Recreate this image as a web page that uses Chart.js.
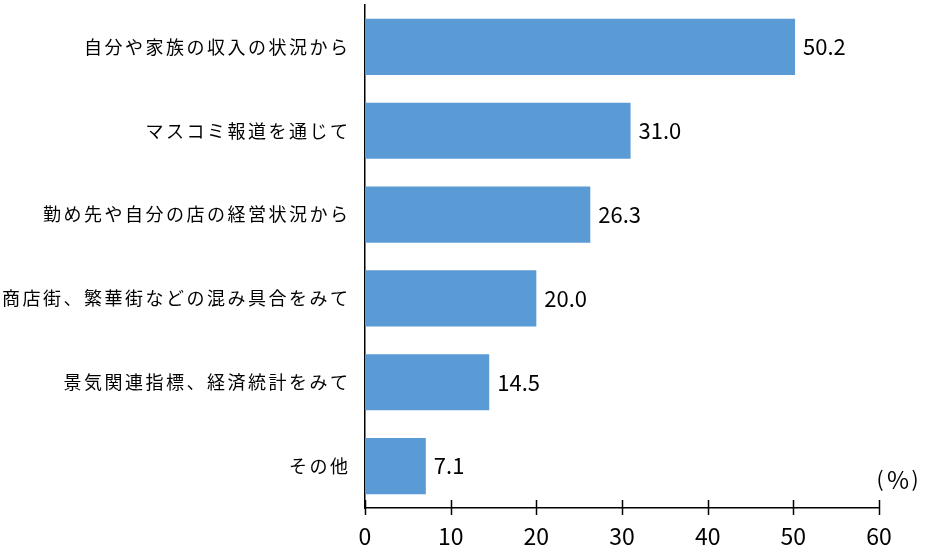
<!DOCTYPE html>
<html>
<head>
<meta charset="utf-8">
<script src="https://cdn.jsdelivr.net/npm/chart.js@4"></script>
<style>
  html, body { margin: 0; padding: 0; background: #fff; }
  #wrap { width: 932px; height: 552px; }
</style>
</head>
<body>
<div id="wrap"><canvas id="c" width="932" height="552"></canvas></div>
<script>
const categories = [
  '自分や家族の収入の状況から',
  'マスコミ報道を通じて',
  '勤め先や自分の店の経営状況から',
  '商店街、繁華街などの混み具合をみて',
  '景気関連指標、経済統計をみて',
  'その他'
];
const values = [50.2, 31.0, 26.3, 20.0, 14.5, 7.1];
const xTicks = [0, 10, 20, 30, 40, 50, 60];
const unitParts = ['(', '%', ')'];

const FONT = "'Noto Sans CJK JP', 'Noto Sans', sans-serif";
const BAR = '#5B9BD5';

/* category labels, value labels, cross tick marks, unit */
const extras = {
  id: 'extras',
  afterDatasetsDraw(chart) {
    const ctx = chart.ctx;
    const meta = chart.getDatasetMeta(0);
    ctx.save();
    ctx.fillStyle = '#000';
    ctx.textBaseline = 'middle';

    // category labels, spaced out a bit
    ctx.font = '18px ' + FONT;
    ctx.textAlign = 'right';
    ctx.letterSpacing = '2.5px';
    meta.data.forEach((bar, i) => {
      ctx.fillText(categories[i], chart.chartArea.left - 14.5, bar.y);
    });
    ctx.letterSpacing = '0px';

    ctx.font = '22px ' + FONT;
    ctx.textAlign = 'left';
    meta.data.forEach((bar, i) => {
      ctx.fillText(values[i].toFixed(1), bar.x + 8, bar.y);
    });

    const xs = chart.scales.x;
    const yb = chart.chartArea.bottom;
    ctx.strokeStyle = '#000';
    ctx.lineWidth = 1.5;
    xTicks.forEach(v => {
      const px = Math.round(xs.getPixelForValue(v)) + 0.5;
      ctx.beginPath();
      ctx.moveTo(px, yb - 8);
      ctx.lineTo(px, yb + 7);
      ctx.stroke();
    });

    // unit, parens set wide like full-width glyphs
    ctx.font = '21px ' + FONT;
    ctx.textAlign = 'center';
    ctx.fillText(unitParts[0], 880, 479);
    ctx.fillText(unitParts[2], 915, 479);
    ctx.font = '24px ' + FONT;
    ctx.fillText(unitParts[1], 898, 480);
    ctx.restore();
  }
};

new Chart(document.getElementById('c'), {
  type: 'bar',
  data: {
    labels: categories,
    datasets: [{
      data: values,
      backgroundColor: BAR,
      borderWidth: 0,
      categoryPercentage: 1,
      barPercentage: 0.67,
    }],
  },
  options: {
    indexAxis: 'y',
    responsive: false,
    animation: false,
    layout: { padding: { top: 5, right: 53, left: 0, bottom: 0 } },
    plugins: { legend: { display: false }, tooltip: { enabled: false } },
    scales: {
      x: {
        min: 0, max: 60,
        afterBuildTicks: s => { s.ticks = xTicks.map(v => ({ value: v })); },
        afterFit: s => { s.height = 44; s.paddingLeft = 0; s.paddingRight = 0; },
        grid: { display: false, drawTicks: false },
        border: { display: true, color: '#000', width: 1.5 },
        ticks: { color: '#000', font: { family: FONT, size: 23 }, padding: 14 },
      },
      y: {
        afterFit: s => { s.width = 365; s.paddingTop = 0; s.paddingBottom = 0; },
        grid: { display: false, drawTicks: false },
        border: { display: true, color: '#000', width: 1.5 },
        ticks: { display: false },
      },
    },
  },
  plugins: [extras],
});
</script>
</body>
</html>
